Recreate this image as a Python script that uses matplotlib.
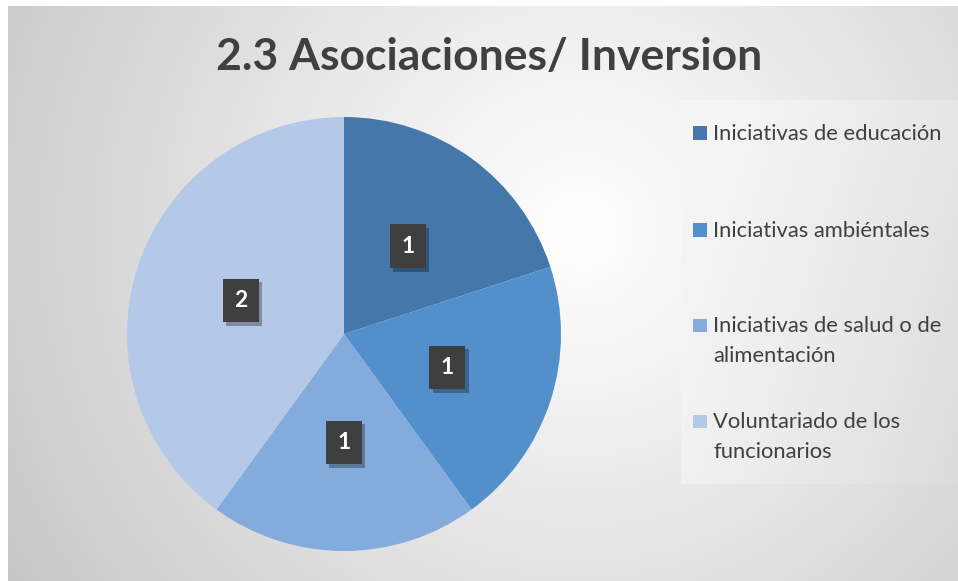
import numpy as np
import matplotlib
matplotlib.use("Agg")
import matplotlib.pyplot as plt
from matplotlib.patches import Rectangle
import matplotlib.patheffects as pe

categories = ["Iniciativas de educación", "Iniciativas ambiéntales",
              "Iniciativas de salud o de\nalimentación", "Voluntariado de los\nfuncionarios"]
values = [1, 1, 1, 2]
colors = ["#4577AB", "#5390CB", "#83ACDC", "#B4C9E8"]
title = "2.3 Asociaciones/ Inversion"

plt.rcParams['font.family'] = ['Lato', 'DejaVu Sans']

W, H = 958, 581
fig = plt.figure(figsize=(W / 100, H / 100), dpi=100)
fig.patch.set_facecolor("white")

# background radial gradient (chart area)
bx0, by0 = 8, 6
bg = fig.add_axes([bx0 / W, 0, 1 - bx0 / W, 1 - by0 / H])
bg.set_axis_off()
xs = np.arange(bx0, W)
ys = np.arange(by0, H)
X, Y = np.meshgrid(xs, ys)
cx, cy = 580, 230
R = np.hypot(X - cx, Y - cy)
R = R / R.max()
c0 = np.array([1.0, 1.0, 1.0])
c1 = np.array([0.78, 0.78, 0.78])
t = np.clip(R, 0, 1) ** 1.05
img = c0[None, None, :] * (1 - t[..., None]) + c1[None, None, :] * t[..., None]
bg.imshow(img, aspect='auto', extent=[0, 1, 0, 1], origin='upper')
bg.set_xlim(0, 1)
bg.set_ylim(0, 1)

# legend box with lighter gradient
lx0, ly0, lx1, ly1 = 681, 100, W, 484
lg = fig.add_axes([lx0 / W, 1 - ly1 / H, (lx1 - lx0) / W, (ly1 - ly0) / H])
lg.set_axis_off()
gx = np.linspace(0, 1, 200)
gy = np.linspace(0, 1, 200)
GX, GY = np.meshgrid(gx, gy)
tt = np.clip(0.7 * GX + 0.3 * GY, 0, 1) ** 1.4
gimg = np.ones((200, 200, 3)) * ((1 - tt[..., None]) * 0.965 + tt[..., None] * 0.86)
lg.imshow(gimg, aspect='auto', extent=[0, 1, 0, 1], origin='upper')
lg.set_xlim(0, 1)
lg.set_ylim(0, 1)

# title
fig.text(489 / W, 1 - 57 / H, title, ha='center', va='center',
         fontsize=32, fontweight='bold', color='#404040')

# pie
px0, py0, pr = 344, 334, 217
ax = fig.add_axes([(px0 - pr) / W, 1 - (py0 + pr) / H, 2 * pr / W, 2 * pr / H])
ax.set_axis_off()
wedges, texts, autotexts = ax.pie(
    values, colors=colors, startangle=90, counterclock=False,
    autopct=lambda p: f"{p * sum(values) / 100:.0f}", pctdistance=0.5,
    wedgeprops=dict(linewidth=0), radius=1.0)
ax.set_xlim(-1, 1)
ax.set_ylim(-1, 1)
ax.set_aspect('equal')
for at in autotexts:
    at.set_color('white')
    at.set_fontweight('bold')
    at.set_fontsize(16.5)
    at.set_bbox(dict(boxstyle='square,pad=0.5', facecolor='#3f3f3f',
                     edgecolor='none', linewidth=0))
    at.get_bbox_patch().set_path_effects([
        pe.SimplePatchShadow(offset=(2.5, -2.5), shadow_rgbFace='#000000', alpha=0.3),
        pe.Normal()])

# legend entries: (baselines of each line in pixels)
baselines = [[140], [237], [332, 362], [428, 458]]
for cat, col, bls in zip(categories, colors, baselines):
    fig.patches.append(Rectangle((693 / W, 1 - bls[0] / H), 14 / W, 13.5 / H,
                                 transform=fig.transFigure, facecolor=col,
                                 edgecolor='none', zorder=5))
    for line, b in zip(cat.split("\n"), bls):
        fig.text(713 / W, 1 - b / H, line, ha='left', va='baseline',
                 fontsize=15.8, color='#404040', zorder=6)

fig.savefig("out.png", dpi=100)
